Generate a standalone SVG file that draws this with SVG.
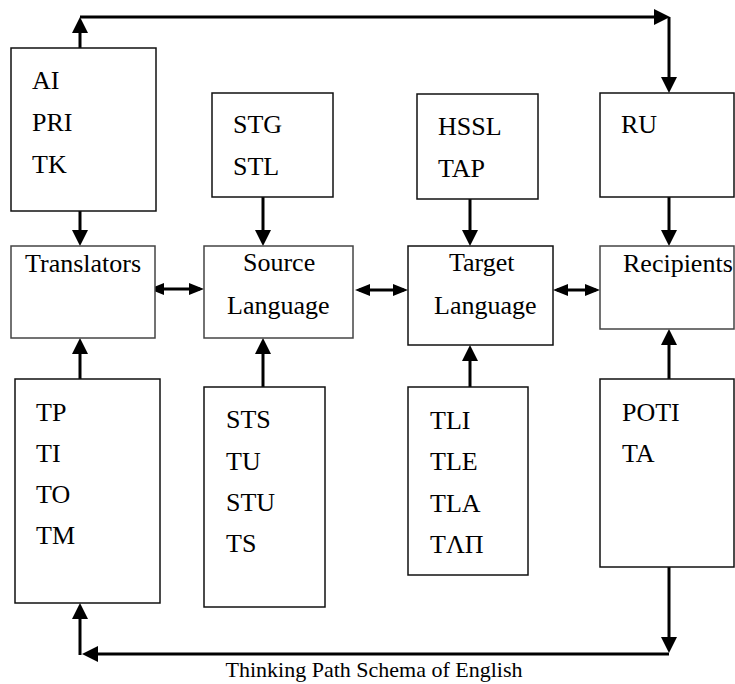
<svg xmlns="http://www.w3.org/2000/svg" width="735" height="684" viewBox="0 0 735 684" font-family="'Liberation Serif', 'Times New Roman', serif">
<style>
text{font-family:'Liberation Serif','Times New Roman',serif}
.box{fill:#fff;stroke:#111;stroke-width:1.5}
.t{font-size:26px;fill:#000}
.c{fill:none;stroke:#000;stroke-width:3;stroke-linecap:butt}
.a{marker-end:url(#ah)}
.d{marker-start:url(#ahs);marker-end:url(#ahs)}
.cap{font-size:22px;fill:#000}
</style>
<defs>
<marker id="ah" markerUnits="userSpaceOnUse" markerWidth="16" markerHeight="16" refX="11" refY="8" orient="auto"><path d="M0,0 L16,8 L0,16 z" fill="#000"/></marker>
<marker id="ahs" markerUnits="userSpaceOnUse" markerWidth="15" markerHeight="12" refX="11" refY="6" orient="auto-start-reverse"><path d="M0,0 L15,6 L0,12 z" fill="#000"/></marker>
</defs>
<rect width="735" height="684" fill="#fff"/>
<g id="connectors">
<path class="c a" d="M80,48 V22"/>
<path class="c" d="M80,17 H660"/>
<path class="c a" d="M655,17 H665"/>
<path class="c a" d="M669,17 V88"/>
<path class="c a" d="M80,211 V241"/>
<path class="c a" d="M263,197 V241"/>
<path class="c a" d="M470,199 V241"/>
<path class="c a" d="M669,197 V241"/>
<path class="c d" d="M153,289 H200"/>
<path class="c d" d="M359,290 H404"/>
<path class="c d" d="M557,290 H596"/>
<path class="c a" d="M80,379 V343"/>
<path class="c a" d="M263,387 V343"/>
<path class="c a" d="M470,387 V350"/>
<path class="c a" d="M669,379 V334"/>
<path class="c a" d="M669,567 V648"/>
<path class="c" d="M669,654 H92"/>
<path class="c a" d="M96,654 H87"/>
<path class="c a" d="M80,655 V608"/>
</g>
<g id="n-ai"><rect class="box" x="11" y="48" width="145" height="163"/><text class="t" x="32" y="89">AI</text><text class="t" x="32" y="131">PRI</text><text class="t" x="32" y="173">TK</text></g>
<g id="n-stg"><rect class="box" x="212" y="93" width="121" height="104"/><text class="t" x="233" y="133">STG</text><text class="t" x="233" y="175">STL</text></g>
<g id="n-hssl"><rect class="box" x="417" y="94" width="121" height="105"/><text class="t" x="438" y="135">HSSL</text><text class="t" x="438" y="177">TAP</text></g>
<g id="n-ru"><rect class="box" x="600" y="93" width="134" height="104"/><text class="t" x="621" y="133">RU</text></g>
<g id="n-translators"><rect class="box" x="11" y="246" width="144" height="92" style="stroke:#444"/><text class="t" x="25" y="272">Translators</text></g>
<g id="n-source"><rect class="box" x="204" y="246" width="149" height="92" style="stroke:#444"/><text class="t" x="243" y="271">Source</text><text class="t" x="227" y="314">Language</text></g>
<g id="n-target"><rect class="box" x="408" y="246" width="145" height="99"/><text class="t" x="449" y="271">Target</text><text class="t" x="434" y="314">Language</text></g>
<g id="n-recipients"><rect class="box" x="600" y="246" width="134" height="83" style="stroke:#444"/><text class="t" x="623" y="272">Recipients</text></g>
<g id="n-tp"><rect class="box" x="15" y="379" width="145" height="224"/><text class="t" x="36" y="421">TP</text><text class="t" x="36" y="462">TI</text><text class="t" x="36" y="503">TO</text><text class="t" x="36" y="544">TM</text></g>
<g id="n-sts"><rect class="box" x="204" y="387" width="121" height="220"/><text class="t" x="226" y="428">STS</text><text class="t" x="226" y="470">TU</text><text class="t" x="226" y="511">STU</text><text class="t" x="226" y="552">TS</text></g>
<g id="n-tli"><rect class="box" x="408" y="387" width="120" height="188"/><text class="t" x="430" y="429">TLI</text><text class="t" x="430" y="470">TLE</text><text class="t" x="430" y="512">TLA</text><text class="t" x="430" y="553">TΛΠ</text></g>
<g id="n-poti"><rect class="box" x="600" y="379" width="134" height="188"/><text class="t" x="622" y="421">POTI</text><text class="t" x="622" y="462">TA</text></g>
<text class="cap" x="374" y="677" text-anchor="middle">Thinking Path Schema of English</text>
</svg>
